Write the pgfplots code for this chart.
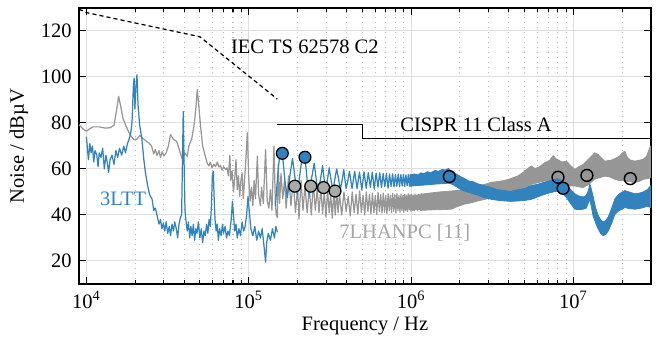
\documentclass[border=0pt]{standalone}
\usepackage{fontspec}
\setmainfont{Liberation Serif}
\usepackage{pgfplots}
\pgfplotsset{compat=1.18}
\definecolor{cblue}{RGB}{49,130,189}
\definecolor{cgray}{RGB}{150,150,150}
\definecolor{cgraytext}{RGB}{165,165,165}
\definecolor{cmarkgray}{RGB}{170,170,170}
\definecolor{cgrid}{RGB}{222,222,222}
\definecolor{cminor}{RGB}{185,185,185}
\begin{document}
\begin{tikzpicture}
\begin{axis}[
  name=ax,
  scale only axis,
  width=279pt, height=134.6pt,
  xmode=log,
  xmin=9e3, xmax=3e7, ymin=10, ymax=130,
  xtick={1e4,1e5,1e6,1e7},
  xticklabels={10\textsuperscript{4},10\textsuperscript{5},10\textsuperscript{6},10\textsuperscript{7}},
  minor xtick={2e4,3e4,4e4,5e4,6e4,7e4,8e4,9e4,2e5,3e5,4e5,5e5,6e5,7e5,8e5,9e5,2e6,3e6,4e6,5e6,6e6,7e6,8e6,9e6,2e7,3e7},
  ytick={20,40,60,80,100,120},
  /pgf/number format/assume math mode=true,
  tick align=inside,
  major tick length=3.4pt,
  minor tick length=1.8pt,
  every tick/.style={black, line width=0.5pt},
  axis line style={black, line width=0.7pt},
  xmajorgrids, ymajorgrids, xminorgrids,
  major grid style={cgrid, solid, line width=0.5pt},
  minor x grid style={cminor, dotted, line width=0.5pt},
  xlabel={Frequency / Hz},
  ylabel={Noise / dBµV},
  xlabel style={at={(axis description cs:0.5,-0.152)}, anchor=center},
  ylabel style={at={(axis description cs:-0.105,0.5)}, anchor=center},
  clip=true,
]
% ---- IEC TS 62578 C2 limit
\addplot[black, line width=0.6pt, dash pattern=on 2pt off 1.5pt] coordinates {
(9e3,129.5) (1e4,128) (5e4,117.5) (1.5e5,90.4)};
% ---- CISPR 11 Class A
\addplot[black, line width=0.6pt] coordinates {
(1.5e5,79.2) (5e5,79.2) (5e5,73.1) (3e7,73.1)};
% ---- 7LHANPC [11] (gray)
\addplot[cgray, line width=0.6pt, line join=round] coordinates {
(9.0e3,79.3) (9.5e3,77.5) (1.0e4,76.4) (1.05e4,77.5) (1.1e4,78.3) (1.2e4,78.3) (1.3e4,77.8) (1.4e4,77.9)
(1.48e4,79) (1.53e4,85) (1.58e4,91.6) (1.63e4,87) (1.68e4,82) (1.74e4,79.3) (1.85e4,75) (1.96e4,72.8)
(2.05e4,73) (2.13e4,74.5) (2.21e4,73.5) (2.3e4,72.5) (2.42e4,71.4) (2.52e4,70) (2.6e4,66.5) (2.66e4,68.5)
(2.72e4,65.8) (2.8e4,68) (2.86e4,65) (2.93e4,67.5) (3.0e4,65.6) (3.1e4,67) (3.2e4,70) (3.3e4,75)
(3.36e4,74) (3.45e4,72.8) (3.6e4,72) (3.75e4,68) (3.9e4,64.2) (4.05e4,67) (4.18e4,65.5) (4.28e4,70)
(4.45e4,73) (4.6e4,78.6) (4.72e4,86) (4.82e4,94.5) (4.92e4,88) (5.05e4,78.6) (5.2e4,70) (5.4e4,65.6)
(5.55e4,62.5) (5.68e4,61.3) (5.8e4,63) (5.95e4,60.5) (6.1e4,62) (6.25e4,61) (6.4e4,63) (6.55e4,60.8)
(6.7e4,61.5) (6.85e4,59.5) (7.0e4,61) (7.2e4,59.8) (7.35e4,60.5) (7.5e4,57) (7.65e4,66) (7.75e4,55)
(7.9e4,59) (8.05e4,50) (8.2e4,56) (8.35e4,64) (8.5e4,51) (8.65e4,57) (8.8e4,48) (8.95e4,55)
(9.1e4,58.4) (9.25e4,47) (9.4e4,54) (9.6e4,64) (9.8e4,75.7) (1.0e5,56) (1.02e5,46) (1.04e5,52)
(1.06e5,44) (1.08e5,55) (1.1e5,47) (1.13e5,65.6) (1.15e5,49) (1.18e5,44) (1.2e5,52) (1.23e5,45)
(1.27e5,68.5) (1.3e5,46) (1.33e5,43) (1.36e5,51) (1.39e5,42) (1.43e5,70) (1.46e5,44) (1.48e5,40)
(1.5e5,38.8) (1.52e5,62) (1.55e5,45) (1.58e5,58) (1.62e5,47) (1.66e5,55) (1.7e5,43) (1.76e5,57)
(1.82e5,44) (1.88e5,55) (1.94e5,41) (2.0e5,52) (2.04e5,38.2) (2.1e5,55) (2.16e5,42) (2.22e5,53)
(2.29e5,41) (2.36e5,52) (2.43e5,40) (2.5e5,54) (2.57e5,42) (2.64e5,51) (2.71e5,41) (2.78e5,52)
(2.85e5,40.5) (2.92e5,50) (2.99e5,39) (3.06e5,51) (3.13e5,41) (3.2e5,49) (3.27e5,38.6) (3.34e5,50)
(3.41e5,40) (3.48e5,50.5) (3.55e5,41) (3.62e5,49) (3.74e5,40) (3.86e5,50) (3.98e5,41.5) (4.1e5,48)
(4.22e5,39.6) (4.34e5,50) (4.46e5,41) (4.58e5,49) (4.7e5,40.5) (4.82e5,50.5) (4.94e5,41) (5.06e5,48.5)
(5.18e5,40) (5.3e5,50) (5.42e5,41.5) (5.54e5,49) (5.66e5,40.5) (5.78e5,49.5) (5.9e5,41) (6.02e5,48.5)
(6.14e5,40.2) (6.26e5,49.8) (6.38e5,41.5) (6.5e5,48.8) (6.62e5,40.8) (6.74e5,49.5) (6.86e5,41.2) (6.98e5,48.5)
(7.1e5,40.5) (7.22e5,49.2) (7.34e5,41.8) (7.46e5,48.6) (7.58e5,41) (7.7e5,49.4) (7.82e5,41.6) (7.94e5,48.8)
(8.06e5,40.8) (8.18e5,49.3) (8.3e5,41.8) (8.42e5,48.5) (8.54e5,41.2) (8.66e5,49.1) (8.78e5,41.9) (8.9e5,48.4)
(9.02e5,41.1) (9.14e5,49) (9.26e5,42) (9.38e5,48.6) (9.5e5,41.4) (9.62e5,49.2) (9.74e5,42.2) (9.86e5,48.7)
(9.98e5,41.6) (1.01e6,49) (1.022e6,42) (1.034e6,48.5) (1.046e6,41.8) (1.058e6,49.1) (1.07e6,42.2) (1.082e6,48.6)
(1.094e6,41.9) (1.106e6,49) (1.118e6,42.3) (1.13e6,48.8) (1.142e6,42) (1.154e6,49.2) (1.166e6,42.4) (1.178e6,48.9)
(1.19e6,42.1)};
% gray dense band
\addplot[fill=cgray, draw=cgray, line width=0.4pt, line join=round] coordinates {
(1.15e6,49) (1.3e6,49.5) (1.5e6,50) (1.77e6,50.4) (2.0e6,50.8) (2.13e6,51.5) (2.4e6,52) (2.58e6,52.8)
(2.85e6,53.3) (3.12e6,54.2) (3.4e6,54.5) (3.77e6,55) (4.1e6,55.8) (4.56e6,57) (5.0e6,59) (5.3e6,60.5)
(5.5e6,61.3) (5.8e6,60.2) (6.2e6,61) (6.65e6,62.7) (7.1e6,63.5) (7.5e6,65.8) (7.8e6,64.5) (8.03e6,64)
(8.5e6,63) (9.05e6,63.4) (9.6e6,61.5) (1.02e7,59.8) (1.08e7,61) (1.15e7,62) (1.25e7,64.5) (1.35e7,67)
(1.42e7,66.3) (1.5e7,64.5) (1.56e7,63.4) (1.7e7,63.8) (1.8e7,64.5) (1.92e7,65.5) (2.0e7,67) (2.07e7,67.7)
(2.15e7,65) (2.25e7,63.8) (2.39e7,63.4) (2.55e7,63.8) (2.69e7,64.2) (2.82e7,65.5) (2.95e7,69.2) (3.0e7,70)
(3.0e7,56.2) (2.85e7,55.8) (2.69e7,55.5) (2.55e7,54.6) (2.39e7,54.1) (2.2e7,54.5) (2.07e7,54.8) (1.9e7,55)
(1.8e7,55.5) (1.68e7,56.5) (1.56e7,56.9) (1.45e7,56.2) (1.35e7,55.5) (1.25e7,53.5) (1.15e7,51.9) (1.08e7,52.2)
(1.02e7,52.6) (9.6e6,52.6) (9.05e6,52.6) (8.5e6,53.5) (8.03e6,54.1) (7.3e6,54.5) (6.65e6,54.8) (6.0e6,54)
(5.5e6,53.3) (5.0e6,51.8) (4.56e6,50.4) (4.1e6,49.5) (3.77e6,49) (3.4e6,48.2) (3.12e6,47.6) (2.85e6,46.8)
(2.58e6,46.1) (2.35e6,45.3) (2.13e6,44.7) (1.9e6,43.5) (1.77e6,42.5) (1.5e6,42.3) (1.3e6,42.2) (1.15e6,42)};
% ---- 3LTT (blue), below 150 kHz
\addplot[cblue, line width=0.6pt, line join=round] coordinates {
(1.0e4,74) (1.03e4,64) (1.05e4,71) (1.07e4,67) (1.09e4,70) (1.11e4,63) (1.13e4,68) (1.16e4,66)
(1.18e4,61) (1.2e4,67) (1.23e4,65) (1.26e4,69) (1.29e4,60) (1.32e4,66) (1.35e4,62) (1.37e4,58.5)
(1.4e4,64) (1.44e4,66) (1.48e4,62) (1.52e4,68) (1.56e4,65) (1.6e4,69) (1.65e4,66) (1.7e4,70)
(1.74e4,67) (1.79e4,71) (1.83e4,72.8) (1.87e4,75) (1.91e4,80) (1.95e4,97) (1.97e4,99.5) (1.99e4,86)
(2.02e4,96) (2.05e4,101) (2.08e4,88) (2.13e4,79) (2.2e4,72.8) (2.26e4,64) (2.31e4,58.5) (2.38e4,53)
(2.45e4,49) (2.54e4,46.8) (2.6e4,42) (2.66e4,43) (2.73e4,39.6) (2.8e4,36) (2.86e4,38) (2.92e4,34)
(2.98e4,36.5) (3.04e4,33) (3.1e4,37) (3.17e4,32) (3.24e4,35) (3.3e4,31) (3.37e4,36) (3.44e4,33)
(3.5e4,37) (3.58e4,34) (3.65e4,30) (3.72e4,36) (3.8e4,39) (3.86e4,40) (3.9e4,60) (3.95e4,85)
(4.0e4,62) (4.05e4,42) (4.1e4,38) (4.18e4,33) (4.25e4,37) (4.33e4,30) (4.4e4,35) (4.48e4,31)
(4.56e4,36) (4.64e4,29) (4.72e4,34) (4.8e4,32) (4.9e4,37) (5.0e4,30) (5.1e4,34) (5.2e4,28)
(5.3e4,33) (5.4e4,31) (5.5e4,36) (5.6e4,32) (5.7e4,38) (5.8e4,35) (5.9e4,45) (5.97e4,57)
(6.05e4,59) (6.12e4,48) (6.2e4,38) (6.3e4,33) (6.4e4,36) (6.5e4,29) (6.62e4,34) (6.75e4,31)
(6.9e4,36) (7.0e4,32) (7.15e4,35) (7.3e4,30) (7.45e4,33) (7.6e4,31) (7.8e4,38) (7.94e4,46)
(8.05e4,40) (8.2e4,33) (8.35e4,36) (8.5e4,30) (8.7e4,34) (8.9e4,31) (9.1e4,37) (9.3e4,33)
(9.5e4,35) (9.7e4,40) (9.9e4,48) (1.01e5,41) (1.03e5,34) (1.06e5,31) (1.09e5,35) (1.12e5,29)
(1.15e5,33) (1.18e5,30) (1.21e5,34) (1.24e5,27) (1.27e5,19.5) (1.29e5,28) (1.32e5,32) (1.36e5,29)
(1.4e5,34) (1.44e5,30) (1.47e5,35) (1.5e5,32.5)};
% ---- 3LTT (blue), above 150 kHz
\addplot[cblue, line width=0.6pt, line join=round] coordinates {
(1.46e5,44) (1.52e5,60) (1.57e5,69) (1.61e5,67) (1.67e5,55) (1.73e5,47.5) (1.80e5,58) (1.86e5,64.5)
(1.93e5,56) (1.99e5,49) (2.06e5,57) (2.14e5,66) (2.22e5,65.5) (2.29e5,55) (2.35e5,48.5) (2.44e5,56)
(2.53e5,62.5) (2.6e5,56) (2.67e5,50) (2.76e5,55) (2.85e5,61.5) (2.91e5,56) (2.97e5,49.5) (3.05e5,55)
(3.13e5,60.5) (3.2e5,56) (3.3e5,50.5) (3.4e5,56) (3.48e5,60) (3.57e5,56) (3.66e5,51) (3.76e5,55)
(3.85e5,59.8) (3.92e5,55) (3.98e5,51.5) (4.08e5,55) (4.17e5,59) (4.33e5,51.5) (4.49e5,59) (4.65e5,51.5)
(4.81e5,58.7) (4.97e5,50.8) (5.13e5,58.8) (5.29e5,51.6) (5.45e5,58.4) (5.61e5,52) (5.77e5,58.6) (5.93e5,51.2)
(6.09e5,58.2) (6.25e5,52.1) (6.41e5,58.3) (6.57e5,51.9) (6.73e5,58) (6.89e5,52.3) (7.05e5,58.1) (7.21e5,51.6)
(7.37e5,57.8) (7.53e5,52.4) (7.69e5,57.9) (7.85e5,52.2) (8.01e5,57.6) (8.17e5,52.5) (8.33e5,57.8) (8.49e5,52.3)
(8.65e5,57.5) (8.81e5,52.6) (8.97e5,57.7) (9.13e5,52.4) (9.29e5,57.4) (9.45e5,52.7) (9.61e5,57.6) (9.77e5,52.5)
(9.93e5,57.3) (1.009e6,52.6) (1.025e6,57.5) (1.041e6,52.7)};
% blue dense band
\addplot[fill=cblue, draw=cblue, line width=0.4pt, line join=round] coordinates {
(9.8e5,57.4) (1.05e6,57.8) (1.1e6,57.4) (1.15e6,58.3) (1.2e6,58) (1.26e6,58.8) (1.32e6,58.4) (1.4e6,59.3)
(1.48e6,59) (1.55e6,59.8) (1.62e6,59.5) (1.7e6,60.2) (1.8e6,58.6) (1.9e6,57.8) (2.0e6,56.8) (2.13e6,55.9)
(2.25e6,54.8) (2.4e6,54.5) (2.58e6,53.5) (2.8e6,52.8) (3.0e6,52.3) (3.12e6,51.9) (3.4e6,51) (3.77e6,50.6)
(4.1e6,50.2) (4.56e6,51) (5.0e6,51.5) (5.5e6,52.8) (6.0e6,53.3) (6.65e6,54.3) (7.3e6,55) (8.0e6,55.8)
(8.5e6,55) (9.05e6,53.5) (9.6e6,51) (1.02e7,49.2) (1.08e7,48.2) (1.15e7,47.8) (1.2e7,48.5) (1.24e7,51)
(1.26e7,53.5) (1.28e7,52) (1.32e7,48.2) (1.37e7,43) (1.42e7,39.8) (1.47e7,38) (1.52e7,37) (1.58e7,37.5)
(1.64e7,39.2) (1.72e7,43) (1.8e7,47) (1.9e7,49) (2.07e7,50.6) (2.2e7,50) (2.39e7,49.2) (2.55e7,49.5)
(2.69e7,50) (2.85e7,51) (3.0e7,52.8)
(3.0e7,43.2) (2.85e7,43.8) (2.69e7,43.2) (2.55e7,42.8) (2.39e7,42.5) (2.2e7,42.8) (2.07e7,43.2) (1.9e7,41.8)
(1.8e7,40.3) (1.72e7,36.5) (1.64e7,33.1) (1.58e7,31.5) (1.52e7,31) (1.47e7,32) (1.42e7,33.9) (1.37e7,36.5)
(1.32e7,39.6) (1.29e7,43.5) (1.26e7,46.8) (1.23e7,45) (1.2e7,43) (1.15e7,42.5) (1.08e7,42.3) (1.02e7,42.5)
(9.6e6,45) (9.05e6,47.6) (8.5e6,49.5) (8.0e6,50.4) (7.3e6,49.8) (6.65e6,49) (6.0e6,47.8) (5.5e6,46.8)
(5.0e6,46.3) (4.56e6,46.1) (4.1e6,45.9) (3.77e6,46.1) (3.4e6,46.4) (3.12e6,46.8) (2.8e6,47.6) (2.58e6,48.6)
(2.4e6,49.3) (2.13e6,50.4) (2.0e6,51.3) (1.8e6,53.3) (1.7e6,53.8) (1.55e6,53.6) (1.4e6,53.4) (1.26e6,53.1)
(1.15e6,52.9) (1.05e6,52.7) (9.8e5,52.5)};
% ---- markers
\addplot[only marks, mark=*, mark size=2.9pt, mark options={fill=cblue, draw=black, line width=0.6pt}] coordinates {
(1.61e5,66.8) (2.22e5,65.1)};
\addplot[only marks, mark=*, mark size=2.9pt, mark options={fill=cmarkgray, draw=black, line width=0.6pt}] coordinates {
(1.92e5,52.5) (2.41e5,52.5) (2.89e5,51.9) (3.40e5,50.4)};
\addplot[only marks, mark=o, mark size=2.9pt, mark options={draw=black, line width=0.7pt}] coordinates {
(1.72e6,56.7) (8.63e6,51.6) (8.03e6,56.4) (1.21e7,57.2) (2.24e7,55.8)};
% ---- annotations
\node[anchor=west, inner sep=0pt] at (axis cs:7.74e4,113.2) {IEC TS 62578 C2};
\node[anchor=west, inner sep=0pt] at (axis cs:8.55e5,79.3) {CISPR 11 Class A};
\node[anchor=west, inner sep=0pt, text=cblue] at (axis cs:1.21e4,47.1) {3LTT};
\node[anchor=west, inner sep=0pt, text=cgraytext] at (axis cs:3.6e5,32.4) {7LHANPC [11]};
\end{axis}
\pgfresetboundingbox
\path ([shift={(-38.5pt,-26.3pt)}]ax.south west) rectangle ([shift={(5.4pt,3.9pt)}]ax.north east);
\end{tikzpicture}
\end{document}
